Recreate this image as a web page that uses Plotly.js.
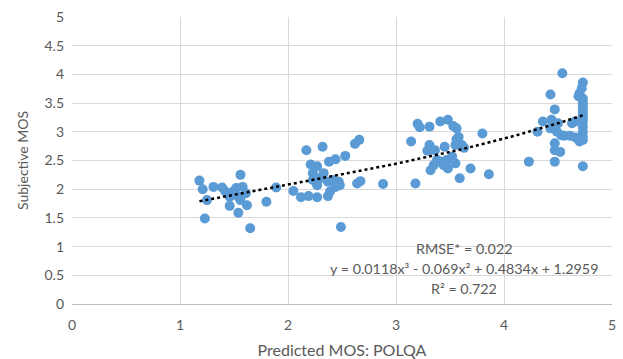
<!DOCTYPE html>
<html>
<head>
<meta charset="utf-8">
<script src="https://cdn.plot.ly/plotly-3.0.1.min.js"></script>
<style>html,body{margin:0;padding:0;background:#fff;}#chart{width:623px;height:359px;}</style>
</head>
<body>
<div id="chart"></div>
<script>
// Predicted MOS (POLQA) values
const predicted = [
  1.18,1.21,1.25,1.23,1.31,1.39,1.42,1.45,1.46,1.52,1.58,1.56,1.54,1.56,1.46,1.54,1.62,1.65,1.80,1.89,1.61,1.50,
  2.05,2.12,2.19,2.27,2.17,2.32,2.21,2.27,2.23,2.33,2.23,2.27,2.38,2.44,2.53,2.62,2.66,2.37,2.42,2.47,2.48,2.44,2.37,2.39,2.64,2.67,2.88,2.49,2.30,
  3.14,3.18,3.20,3.22,3.31,3.41,3.48,3.53,3.56,3.31,3.29,3.36,3.45,3.56,3.58,3.55,3.61,3.63,3.38,3.42,3.47,3.52,3.55,3.35,3.44,3.48,3.32,3.59,3.69,3.80,3.86,
  4.23,4.36,4.31,4.43,4.47,4.54,4.44,4.47,4.50,4.43,4.49,4.53,4.56,4.47,4.47,4.52,4.47,4.73,4.61,4.66,4.70,
  4.73,4.72,4.70,4.69,4.73,4.73,4.73,4.73,4.73,4.73,4.73,4.73,4.73,4.73,4.73,4.73,4.66,4.63
];
// Subjective MOS values
const subjective = [
  2.15,2.00,1.81,1.49,2.04,2.03,1.96,1.93,1.87,2.02,2.04,2.25,1.87,1.81,1.71,1.59,1.72,1.32,1.78,2.03,1.93,1.97,
  1.97,1.86,1.88,1.86,2.68,2.74,2.43,2.40,2.28,2.28,2.16,2.07,2.48,2.52,2.58,2.79,2.86,2.13,2.16,2.13,2.07,2.04,1.88,1.96,2.10,2.14,2.09,1.34,2.19,
  2.83,2.10,3.14,3.08,3.09,3.18,3.21,3.10,3.06,2.77,2.67,2.68,2.74,2.87,2.91,2.77,2.77,2.72,2.51,2.48,2.51,2.57,2.45,2.42,2.42,2.36,2.33,2.19,2.36,2.97,2.26,
  2.48,3.18,3.00,3.65,3.39,4.02,3.21,3.12,3.15,3.06,3.00,2.94,2.93,2.80,2.68,2.65,2.48,2.40,2.93,2.90,2.83,
  3.86,3.76,3.67,3.62,3.58,3.52,3.47,3.41,3.35,3.29,3.23,3.18,3.09,3.00,2.92,2.86,3.18,3.15
];
// Polynomial trendline coefficients (x^3, x^2, x, 1) as printed on the chart
const trendCoef = [0.0118, -0.069, 0.4834, 1.2959];
const xTicks = [0,1,2,3,4,5];
const xTickLabels = ['0','1','2','3','4','5'];
const yTicks = [0,0.5,1,1.5,2,2.5,3,3.5,4,4.5,5];
const yTickLabels = ['0','0.5','1','1.5','2','2.5','3','3.5','4','4.5','5'];
const labels = ['RMSE* = 0.022','y = 0.0118x³ - 0.069x² + 0.4834x + 1.2959','R² = 0.722'];

const xmin = Math.min(...predicted), xmax = Math.max(...predicted);
const tx = [], ty = [];
const N = 80;
for (let i = 0; i <= N; i++) {
  const x = xmin + (xmax - xmin) * i / N;
  tx.push(x);
  ty.push(trendCoef[0]*x*x*x + trendCoef[1]*x*x + trendCoef[2]*x + trendCoef[3]);
}

const font = 'Lato, "Open Sans", sans-serif';
const grey = '#595959';
const data = [
  {x: predicted, y: subjective, type: 'scatter', mode: 'markers',
   marker: {color: '#5b9bd5', size: 10}, hoverinfo: 'x+y'},
  {x: tx, y: ty, type: 'scatter', mode: 'lines',
   line: {color: '#000000', width: 2.5, dash: 'dot'}, hoverinfo: 'skip'}
];
const layout = {
  width: 623, height: 359,
  margin: {l: 72, r: 11, t: 17, b: 55},
  paper_bgcolor: '#ffffff', plot_bgcolor: '#ffffff',
  showlegend: false,
  font: {family: font, color: grey, size: 14},
  xaxis: {
    range: [0, 5], tickvals: xTicks, ticktext: xTickLabels,
    showgrid: true, gridcolor: '#d9d9d9', gridwidth: 1,
    zeroline: false, showline: true, linecolor: '#bfbfbf', linewidth: 1,
    ticks: '', ticklabelstandoff: 8, tickfont: {size: 14, color: grey, family: font},
    title: {text: 'Predicted MOS: POLQA', font: {size: 16, color: grey, family: font}, standoff: 16}
  },
  yaxis: {
    range: [0, 5], tickvals: yTicks, ticktext: yTickLabels,
    showgrid: true, gridcolor: '#d9d9d9', gridwidth: 1,
    zeroline: false, showline: false,
    ticks: '', ticklabelstandoff: 7, tickfont: {size: 14, color: grey, family: font},
    title: {text: 'Subjective MOS', font: {size: 14, color: grey, family: font}, standoff: 12}
  },
  annotations: [
    {x: 3.63, y: 0.97, text: labels[0]},
    {x: 3.63, y: 0.62, text: labels[1]},
    {x: 3.63, y: 0.27, text: labels[2]}
  ].map(a => Object.assign(a, {xref: 'x', yref: 'y', showarrow: false, xanchor: 'center', yanchor: 'middle',
     font: {size: 14.3, color: grey, family: font}}))
};
Plotly.newPlot('chart', data, layout, {displayModeBar: false, staticPlot: true});
</script>
</body>
</html>
